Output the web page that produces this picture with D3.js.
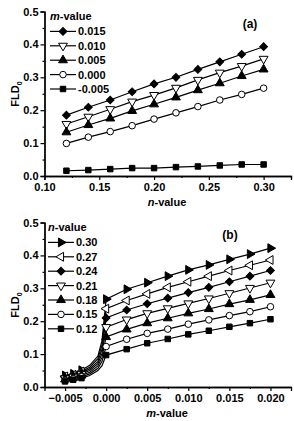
<!DOCTYPE html>
<html>
<head>
<meta charset="utf-8">
<script src="https://cdn.jsdelivr.net/npm/d3@7"></script>
<style>
  body { margin: 0; background: #fff; }
  svg text { font-family: "Liberation Sans", Arial, sans-serif; font-weight: bold; fill: #000; }
</style>
</head>
<body>
<div id="chart"></div>
<script>
// panel (a): FLD0 vs n for several m
var nValues = [0.12, 0.14, 0.16, 0.18, 0.20, 0.22, 0.24, 0.26, 0.28, 0.30];
var mLabels = ["0.015", "0.010", "0.005", "0.000", "-0.005"];
var fldM015 = [0.185, 0.209, 0.231, 0.256, 0.280, 0.300, 0.324, 0.347, 0.370, 0.393];
var fldM010 = [0.158, 0.180, 0.203, 0.226, 0.246, 0.268, 0.292, 0.314, 0.334, 0.356];
var fldM005 = [0.133, 0.155, 0.175, 0.198, 0.218, 0.239, 0.261, 0.282, 0.304, 0.324];
var fldM000 = [0.099, 0.118, 0.135, 0.153, 0.173, 0.192, 0.211, 0.231, 0.248, 0.267];
var fldMneg = [0.016, 0.018, 0.021, 0.024, 0.024, 0.027, 0.029, 0.032, 0.035, 0.035];

// panel (b): FLD0 vs m for several n
var mValues = [-0.005, -0.004, -0.003, -0.002, -0.001, -0.0005, 0.000,
               0.0025, 0.005, 0.0075, 0.010, 0.0125, 0.015, 0.0175, 0.020];
var nLabels = ["0.30", "0.27", "0.24", "0.21", "0.18", "0.15", "0.12"];
var fldN30 = [0.035, 0.040, 0.051, 0.066, 0.094, 0.141, 0.267, 0.297, 0.317, 0.337, 0.356, 0.371, 0.388, 0.404, 0.422];
var fldN27 = [0.032, 0.037, 0.047, 0.060, 0.086, 0.128, 0.238, 0.263, 0.283, 0.303, 0.320, 0.337, 0.354, 0.370, 0.386];
var fldN24 = [0.029, 0.034, 0.043, 0.055, 0.078, 0.115, 0.210, 0.234, 0.253, 0.270, 0.287, 0.303, 0.320, 0.337, 0.354];
var fldN21 = [0.026, 0.031, 0.039, 0.050, 0.071, 0.102, 0.182, 0.205, 0.224, 0.239, 0.254, 0.269, 0.285, 0.301, 0.317];
var fldN18 = [0.023, 0.028, 0.035, 0.045, 0.064, 0.090, 0.152, 0.175, 0.194, 0.209, 0.224, 0.237, 0.252, 0.265, 0.280];
var fldN15 = [0.020, 0.025, 0.031, 0.040, 0.057, 0.078, 0.123, 0.145, 0.163, 0.176, 0.191, 0.204, 0.217, 0.229, 0.244];
var fldN12 = [0.017, 0.022, 0.027, 0.035, 0.050, 0.065, 0.097, 0.115, 0.133, 0.146, 0.160, 0.171, 0.183, 0.194, 0.206];

var yTicks = [0.0, 0.1, 0.2, 0.3, 0.4, 0.5];
var xTicksA = [0.10, 0.15, 0.20, 0.25, 0.30];
var xTicksB = [-0.005, 0.000, 0.005, 0.010, 0.015, 0.020];

(function() {
  var widthSvg = 294
  var heightSvg = 421

  var svg = d3.select("#chart").append("svg")
    .attr("width", widthSvg)
    .attr("height", heightSvg)

  var shapes = {
    diamond:  { type: d3.symbolSquare, size: 30, rot: 45, fill: "#000" },
    triDown:  { type: d3.symbolTriangle, size: 34, rot: 180, fill: "#fff" },
    triUp:    { type: d3.symbolTriangle, size: 34, rot: 0, fill: "#000" },
    circle:   { type: d3.symbolCircle, size: 34, rot: 0, fill: "#fff" },
    square:   { type: d3.symbolSquare, size: 30, rot: 0, fill: "#000" },
    triRight: { type: d3.symbolTriangle, size: 34, rot: 90, fill: "#000" },
    triLeft:  { type: d3.symbolTriangle, size: 34, rot: -90, fill: "#fff" }
  }

  function drawMarker(g, shape, x, y) {
    var s = shapes[shape]
    g.append("path")
      .attr("d", d3.symbol().type(s.type).size(s.size)())
      .attr("transform", "translate(" + x + "," + y + ") rotate(" + s.rot + ")")
      .attr("fill", s.fill)
      .attr("stroke", "#000")
      .attr("stroke-width", 1)
  }

  function makePanel(opt) {
    var g = svg.append("g")
    var x = d3.scaleLinear().domain(opt.xDomain).range([44.5, 291])
    var y = d3.scaleLinear().domain([0, 0.5]).range([opt.y0, opt.y0 - 164.5])

    // series lines
    opt.series.forEach(function(s) {
      var pts = opt.xs.map(function(d, i) { return [d, s.values[i]] })
      g.append("path")
        .datum(pts)
        .attr("fill", "none")
        .attr("stroke", "#000")
        .attr("stroke-width", 1.2)
        .attr("d", d3.line().x(function(d) { return x(d[0]) }).y(function(d) { return y(d[1]) }))
    })
    opt.series.forEach(function(s) {
      opt.xs.forEach(function(d, i) {
        if (opt.marked && !opt.marked(d)) return
        drawMarker(g, s.shape, x(d), y(s.values[i]))
      })
    })

    // axes
    var yAxis = d3.axisLeft(y).tickValues(yTicks).tickFormat(d3.format(".1f")).tickSizeOuter(0).tickSize(4).tickPadding(2)
    var yMinor = d3.axisLeft(y).tickValues(yTicks.slice(0, -1).map(function(d) { return d + 0.05 })).tickFormat("").tickSize(2).tickSizeOuter(0)
    var xAxis = d3.axisBottom(x).tickValues(opt.xTicks).tickFormat(opt.xFormat).tickSizeOuter(0).tickSize(4).tickPadding(3)
    var xMinor = d3.axisBottom(x).tickValues(opt.xMinor).tickFormat("").tickSize(2).tickSizeOuter(0)

    g.append("g").attr("transform", "translate(44.5,0)").call(yMinor)
    g.append("g").attr("transform", "translate(44.5,0)").call(yAxis)
    g.append("g").attr("transform", "translate(0," + opt.y0 + ")").call(xMinor)
    g.append("g").attr("transform", "translate(0," + opt.y0 + ")").call(xAxis)
    g.selectAll(".domain").attr("stroke-width", 1.3)
    g.selectAll(".tick line").attr("stroke-width", 1.2)
    g.selectAll(".tick text").attr("font-size", 11).attr("font-family", "Liberation Sans, Arial, sans-serif").attr("font-weight", "bold")

    // axis titles
    var yl = g.append("text")
      .attr("transform", "translate(" + 19 + "," + (opt.y0 - 82) + ") rotate(-90)")
      .attr("text-anchor", "middle")
      .attr("font-size", 11)
    yl.append("tspan").text("FLD")
    yl.append("tspan").text("0").attr("font-size", 7).attr("dy", 3)

    var xl = g.append("text")
      .attr("x", 167)
      .attr("y", opt.y0 + 30)
      .attr("text-anchor", "middle")
      .attr("font-size", 11)
    xl.append("tspan").text(opt.xVar).attr("font-style", "italic")
    xl.append("tspan").text("-value")

    g.append("text")
      .attr("x", opt.tagX)
      .attr("y", opt.y0 - 148)
      .attr("text-anchor", "middle")
      .attr("font-size", 12)
      .text(opt.tag)

    // legend
    var lx = opt.legendX
    var ly = opt.y0 - 160
    var lt = g.append("text").attr("x", lx).attr("y", ly + 4).attr("font-size", 11)
    lt.append("tspan").text(opt.legendVar).attr("font-style", "italic")
    lt.append("tspan").text("-value")
    opt.series.forEach(function(s, i) {
      var yy = ly + 15.4 + i * 14.4
      g.append("line")
        .attr("x1", lx).attr("x2", lx + 26)
        .attr("y1", yy).attr("y2", yy)
        .attr("stroke", "#000").attr("stroke-width", 1.2)
      drawMarker(g, s.shape, lx + 13, yy)
      g.append("text")
        .attr("x", lx + 28)
        .attr("y", yy + 4)
        .attr("font-size", 11)
        .text(s.label)
    })
  }

  makePanel({
    y0: 176,
    xDomain: [0.10, 0.325],
    xs: nValues,
    xTicks: xTicksA,
    xMinor: [0.125, 0.175, 0.225, 0.275, 0.325],
    xFormat: d3.format(".2f"),
    xVar: "n",
    legendVar: "m",
    legendX: 50,
    tag: "(a)",
    tagX: 250,
    series: [
      { label: mLabels[0], values: fldM015, shape: "diamond" },
      { label: mLabels[1], values: fldM010, shape: "triDown" },
      { label: mLabels[2], values: fldM005, shape: "triUp" },
      { label: mLabels[3], values: fldM000, shape: "circle" },
      { label: mLabels[4], values: fldMneg, shape: "square" }
    ]
  })

  makePanel({
    y0: 387,
    xDomain: [-0.0075, 0.0225],
    xs: mValues,
    marked: function(m) { return m <= -0.003 || m >= 0 },
    xTicks: xTicksB,
    xMinor: [-0.0025, 0.0025, 0.0075, 0.0125, 0.0175],
    xFormat: d3.format(".3f"),
    xVar: "m",
    legendVar: "n",
    legendX: 48,
    tag: "(b)",
    tagX: 230,
    series: [
      { label: nLabels[0], values: fldN30, shape: "triRight" },
      { label: nLabels[1], values: fldN27, shape: "triLeft" },
      { label: nLabels[2], values: fldN24, shape: "diamond" },
      { label: nLabels[3], values: fldN21, shape: "triDown" },
      { label: nLabels[4], values: fldN18, shape: "triUp" },
      { label: nLabels[5], values: fldN15, shape: "circle" },
      { label: nLabels[6], values: fldN12, shape: "square" }
    ]
  })
})();
</script>
</body>
</html>
